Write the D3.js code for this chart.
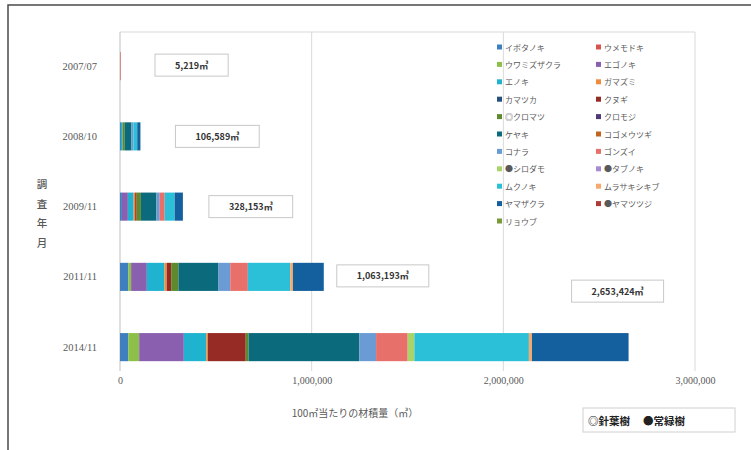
<!DOCTYPE html>
<html><head><meta charset="utf-8">
<script src="https://cdn.jsdelivr.net/npm/d3@7"></script>
<style>
body{margin:0;background:#fff;}
svg{display:block;}
</style></head>
<body>
<svg id="chart" width="751" height="450"></svg>
<script>
const years = ["2007/07","2008/10","2009/11","2011/11","2014/11"];
const species = ["イボタノキ","ウメモドキ","ウワミズザクラ","エゴノキ","エノキ","ガマズミ","カマツカ","クヌギ","◎クロマツ","クロモジ","ケヤキ","コゴメウツギ","コナラ","ゴンズイ","●シロダモ","●タブノキ","ムクノキ","ムラサキシキブ","ヤマザクラ","●ヤマツツジ","リョウブ"];
// values per survey, in species order
const v2007 = [0,0,0,0,0,0,0,0,0,0,0,0,1500,3719,0,0,0,0,0,0,0];
const v2008 = [5000,0,0,0,8000,0,0,0,12000,0,35000,0,10000,0,0,0,20000,0,16589,0,0];
const v2009 = [10000,0,0,31000,30000,8000,0,8000,22000,0,81153,0,17000,26000,0,0,52000,0,43000,0,0];
const v2011 = [43000,0,15000,82000,92000,12000,0,23000,38000,0,209000,0,61000,92000,0,0,221193,14000,161000,0,0];
const v2014 = [43000,0,57000,233000,118000,8000,0,197000,15000,0,578000,0,87000,165000,35000,0,597424,16000,504000,0,0];
const xTicks = [0,1000000,2000000,3000000];
const noteTexts = ["◎針葉樹","●常緑樹"];
const xTitle = "100㎡当たりの材積量（㎥）";
const yTitle = "調査年月";

const colors = ["#3f7fc0","#d9534f","#8dc04a","#8a5fb0","#1fb3cf","#f08a3c","#244f7e","#962a25","#5e8a2d","#4e3a78","#0b6b7c","#c2641f","#6a9bd4","#e8706b","#a8d46a","#a88ad0","#2cc0d8","#f7a86a","#145f9e","#b03a35","#7a9a3a"];

const perYear = [v2007,v2008,v2009,v2011,v2014];
const table = years.map((y,i)=>{
  const row = {year:y};
  species.forEach((s,j)=>row[s]=perYear[i][j]);
  return row;
});

const svg = d3.select("#chart");
const L=120,R=695,T=32,B=371;
const x = d3.scaleLinear().domain([0,3000000]).range([L,R]);
const y = d3.scaleBand().domain(years).range([31,382.25]).paddingInner(0.6).paddingOuter(0.3);
const color = d3.scaleOrdinal().domain(species).range(colors);

// outer frame
svg.append("path").attr("d",`M751,5 H8 V450`).attr("fill","none").attr("stroke","#4a4a4a").attr("stroke-width",1.5);

// plot area
svg.append("line").attr("x1",L).attr("x2",R).attr("y1",T).attr("y2",T).attr("stroke","#d9d9d9");
svg.append("g").selectAll("line").data(xTicks).join("line")
  .attr("x1",d=>x(d)).attr("x2",d=>x(d)).attr("y1",T).attr("y2",B)
  .attr("stroke",d=>d===0?"#bfbfbf":"#d9d9d9");

const stack = d3.stack().keys(species)(table);
svg.append("g").selectAll("g").data(stack).join("g")
  .attr("fill",d=>color(d.key))
  .selectAll("rect").data(d=>d).join("rect")
  .attr("x",d=>x(d[0])).attr("width",d=>Math.max(0,x(d[1])-x(d[0])))
  .attr("y",d=>y(d.data.year)).attr("height",y.bandwidth());

// axes
const xa = svg.append("g").attr("transform",`translate(0,${B})`)
  .call(d3.axisBottom(x).tickValues(xTicks).tickFormat(d3.format(",")).tickSize(0).tickPadding(6));
xa.select(".domain").remove();
xa.selectAll("text").attr("font-family","Liberation Serif").attr("font-size",10).attr("fill","#595959");

const ya = svg.append("g").attr("transform",`translate(${L},0)`)
  .call(d3.axisLeft(y).tickSize(0).tickPadding(23));
ya.select(".domain").remove();
ya.selectAll("text").attr("font-family","Liberation Serif").attr("font-size",10.5).attr("fill","#595959");

// axis titles
svg.append("text").attr("x",355).attr("y",417).attr("text-anchor","middle")
  .attr("font-family","Noto Sans CJK JP").attr("font-size",10).attr("fill","#595959").text(xTitle);
svg.append("g").selectAll("text").data(Array.from(yTitle)).join("text")
  .attr("x",42).attr("y",(d,i)=>188+i*19.5).attr("text-anchor","middle")
  .attr("font-family","Noto Sans CJK JP").attr("font-size",10.5).attr("font-weight",500).attr("fill","#595959").text(d=>d);

// total labels
const labelDx = [34,35,26,13,-57];
const labelDy = [-1,0,0,-1,-56];
const totals = perYear.map(a=>d3.sum(a));
const lg = svg.append("g");
years.forEach((yr,i)=>{
  const g = lg.append("g");
  const cx = x(totals[i]) + labelDx[i];
  const cy = y(yr)+y.bandwidth()/2 + labelDy[i];
  const t = g.append("text").attr("font-family","Noto Sans CJK JP").attr("font-size",9).attr("font-weight",700)
    .attr("fill","#333").attr("dominant-baseline","central").text(d3.format(",")(totals[i])+"㎥");
  const w = t.node().getComputedTextLength()+40;
  g.insert("rect","text").attr("x",cx).attr("y",cy-11).attr("width",w).attr("height",22)
    .attr("fill","#fff").attr("stroke","#c8c8c8");
  t.attr("x",cx+w/2).attr("y",cy).attr("text-anchor","middle");
});

// legend
const leg = svg.append("g");
species.forEach((s,i)=>{
  const col = i%2, row = Math.floor(i/2);
  const gx = col===0?497:596, gy = 47+row*17.4;
  leg.append("rect").attr("x",gx).attr("y",gy-2.5).attr("width",5).attr("height",5).attr("fill",color(s));
  leg.append("text").attr("x",gx+8).attr("y",gy).attr("dominant-baseline","central")
    .attr("font-family","Noto Sans CJK JP").attr("font-size",8).attr("fill","#595959").text(s);
});

// note box
svg.append("rect").attr("x",583).attr("y",408).attr("width",152).attr("height",24).attr("fill","#fff").attr("stroke","#d0d0d0");
svg.append("g").selectAll("text").data(noteTexts).join("text")
  .attr("x",(d,i)=>588+i*55).attr("y",420.5).attr("dominant-baseline","central")
  .attr("font-family","Noto Sans CJK JP").attr("font-size",10.5).attr("font-weight",700).attr("fill","#222").text(d=>d);
</script>
</body></html>
